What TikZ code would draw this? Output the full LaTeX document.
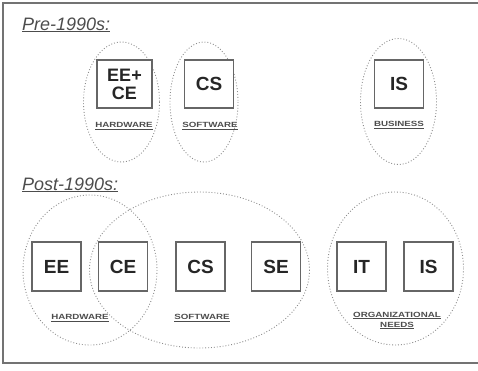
\documentclass[tikz,border=0pt]{standalone}
\usepackage{fontspec}
\setmainfont{Liberation Sans}
\usepackage{graphicx}
\newcommand{\lbl}[1]{\underline{\scalebox{1.3}[1]{#1}}}
\begin{document}
\begin{tikzpicture}[x=1pt,y=-1pt,
  frame/.style={draw=black!55,line width=1.4pt},
  ring/.style={draw=black!45,line width=0.9pt,dotted},
  field/.style={draw=black!60,line width=1.4pt,fill=white,minimum width=49pt,minimum height=49pt,inner sep=0pt,
     font=\fontsize{19}{20}\selectfont\bfseries,text=black!85,align=center},
  era/.style={font=\fontsize{18}{19}\selectfont\itshape,text=black!70,inner sep=0pt},
  tag/.style={font=\fontsize{7.5}{9}\selectfont\bfseries,text=black!70,inner sep=0pt,align=center}]
\useasboundingbox (0,0) rectangle (478,370);
\draw[frame] (482,3) -- (3,3) -- (3,363) -- (482,363);
% headings
\node[era,anchor=base west] (pre) at (22,30) {\underline{Pre-1990s:}};
\node[era,anchor=base west] (post) at (22,190) {\underline{Post-1990s:}};
% pre-1990s rings
\draw[ring] (121.5,102) ellipse [x radius=38,y radius=60];
\draw[ring] (204,102) ellipse [x radius=34,y radius=60];
\draw[ring] (398.5,101.5) ellipse [x radius=38,y radius=63];
\node[field,minimum width=55pt,minimum height=48pt,font=\fontsize{18}{19}\selectfont\bfseries] (eece) at (124.5,84) {EE+\\[-1pt]CE};
\node[field,minimum height=48pt] (cs0) at (209,84) {CS};
\node[field,minimum height=48pt] (is0) at (399,84) {IS};
\node[tag] (hw0) at (124,126) {\lbl{HARDWARE}};
\node[tag] (sw0) at (210,126) {\lbl{SOFTWARE}};
\node[tag] (bus0) at (399,125) {\lbl{BUSINESS}};
% post-1990s rings
\draw[ring] (90,270) ellipse [x radius=67,y radius=75];
\draw[ring] (199.5,270) ellipse [x radius=110,y radius=78];
\draw[ring] (395.5,268.5) ellipse [x radius=68,y radius=76.5];
\node[field] (ee) at (56.5,266.5) {EE};
\node[field] (ce) at (123,266.5) {CE};
\node[field] (cs) at (200.5,266.5) {CS};
\node[field] (se) at (276,266.5) {SE};
\node[field] (it) at (361.5,266.5) {IT};
\node[field] (is) at (428.5,266.5) {IS};
\node[tag] (hw) at (80,318) {\lbl{HARDWARE}};
\node[tag] (sw) at (202,318) {\lbl{SOFTWARE}};
\node[tag] (org) at (397,320.5) {\lbl{ORGANIZATIONAL}\\[1pt]\lbl{NEEDS}};
\end{tikzpicture}
\end{document}
